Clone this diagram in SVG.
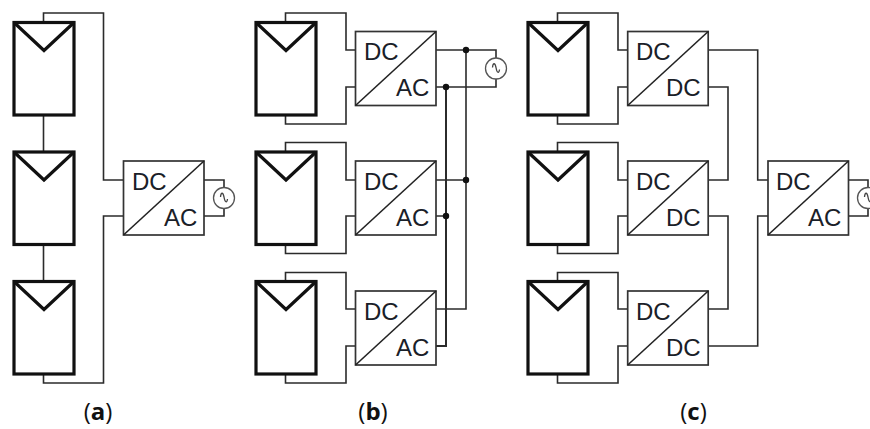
<svg xmlns="http://www.w3.org/2000/svg" width="870" height="429" viewBox="0 0 870 429">
<style>
.w{fill:none;stroke:#2b2b2b;stroke-width:1.6}
.bus{fill:none;stroke:#2b2b2b;stroke-width:2}
.pv{fill:#fff;stroke:#111;stroke-width:3.2}
.vv{fill:none;stroke:#111;stroke-width:3.2}
.box{fill:#fff;stroke:#333;stroke-width:1.7}
.diag{stroke:#222;stroke-width:1.6}
.t{font-family:"Liberation Sans",Arial,sans-serif;font-size:24px;fill:#1a2028}
.ac{fill:#fff;stroke:#555;stroke-width:1.3}
.sine{fill:none;stroke:#444;stroke-width:1.3}
.cap{font-family:"Open Sans","Liberation Sans",sans-serif;font-size:24px;fill:#111;text-anchor:middle}
.b{font-weight:700}
.dot{fill:#111}
</style>
<defs>
<g id="panel"><rect class="pv" x="0" y="0" width="60" height="92.5"/><path class="vv" d="M0 0L30 28L60 0"/></g>
<g id="conv"><rect class="box" x="0" y="0" width="80.500" height="74"/><path class="diag" d="M0 74L80.500 0"/></g>
<g id="src"><circle class="ac" cx="0" cy="0" r="10.500"/><path class="sine" d="M-3.500 -1C-3 -6 -1 -6 0 -1C1 5 3 5 3.500 1"/></g>
</defs>
<g id="connectors">
<path class="w" d="M43.500 22V13H103.500V180H124M43.500 115V152M43.500 244V282M43.500 374V383H103.500V216H124M204 180H224V188M204 216H224V208"/>
<path class="w" d="M285.500 22V13H346V50H356M285.500 115V124H346V87H356M285.500 152V142.500H346V180H356M285.500 244V253.500H346V216H356M285.500 282V272.500H346V309H356M285.500 374V383H346V346H356"/>
<path class="w" d="M436 50H496V58M436 87H496V79M436 180H466M436 216H446M436 309H466V50"/>
<path class="bus" d="M436 346H446V87"/>
<path class="w" d="M557.500 22V13H618V50H628M557.500 115V124H618V87H628M557.500 152V142.500H618V180H628M557.500 244V253.500H618V216H628M557.500 282V272.500H618V309H628M557.500 374V383H618V346H628"/>
<path class="w" d="M708 50H757.700V180H768M708 346H757.700V216H768M708 87H728V180H708M708 216H728V309H708M849 180H868V188M849 216H868V208"/>
</g>
<g id="a-pv1"><use href="#panel" x="14" y="22.500"/></g>
<g id="a-pv2"><use href="#panel" x="14" y="152"/></g>
<g id="a-pv3"><use href="#panel" x="14" y="281.500"/></g>
<g id="a-inv"><use href="#conv" x="123.500" y="161"/><text class="t" x="132" y="189.500">DC</text><text class="t" x="164" y="226">AC</text></g>
<g id="a-grid"><use href="#src" x="224" y="198"/></g>
<g id="b-pv1"><use href="#panel" x="256" y="22.500"/></g>
<g id="b-pv2"><use href="#panel" x="256" y="152"/></g>
<g id="b-pv3"><use href="#panel" x="256" y="281.500"/></g>
<g id="b-inv1"><use href="#conv" x="355.500" y="31.500"/><text class="t" x="364" y="59.500">DC</text><text class="t" x="396" y="96">AC</text></g>
<g id="b-inv2"><use href="#conv" x="355.500" y="161"/><text class="t" x="364" y="189.500">DC</text><text class="t" x="396" y="226">AC</text></g>
<g id="b-inv3"><use href="#conv" x="355.500" y="291"/><text class="t" x="364" y="319.500">DC</text><text class="t" x="396" y="356">AC</text></g>
<g id="b-grid"><use href="#src" x="496" y="68.500"/></g>
<g id="b-dots"><circle class="dot" cx="466" cy="50" r="3.200"/><circle class="dot" cx="446" cy="87" r="3.200"/><circle class="dot" cx="466" cy="180" r="3.200"/><circle class="dot" cx="446" cy="216" r="3.200"/></g>
<g id="c-pv1"><use href="#panel" x="528" y="22.500"/></g>
<g id="c-pv2"><use href="#panel" x="528" y="152"/></g>
<g id="c-pv3"><use href="#panel" x="528" y="281.500"/></g>
<g id="c-conv1"><use href="#conv" x="627.700" y="31.500"/><text class="t" x="636" y="59.500">DC</text><text class="t" x="666" y="96">DC</text></g>
<g id="c-conv2"><use href="#conv" x="627.700" y="161"/><text class="t" x="636" y="189.500">DC</text><text class="t" x="666" y="226">DC</text></g>
<g id="c-conv3"><use href="#conv" x="627.700" y="291"/><text class="t" x="636" y="319.500">DC</text><text class="t" x="666" y="356">DC</text></g>
<g id="c-inv"><use href="#conv" x="768" y="161"/><text class="t" x="776" y="189.500">DC</text><text class="t" x="808" y="226">AC</text></g>
<g id="c-grid"><use href="#src" x="868" y="198"/></g>
<text class="cap" x="98" y="420">(<tspan class="b">a</tspan>)</text>
<text class="cap" x="373" y="420">(<tspan class="b">b</tspan>)</text>
<text class="cap" x="693.500" y="420">(<tspan class="b">c</tspan>)</text>
</svg>
